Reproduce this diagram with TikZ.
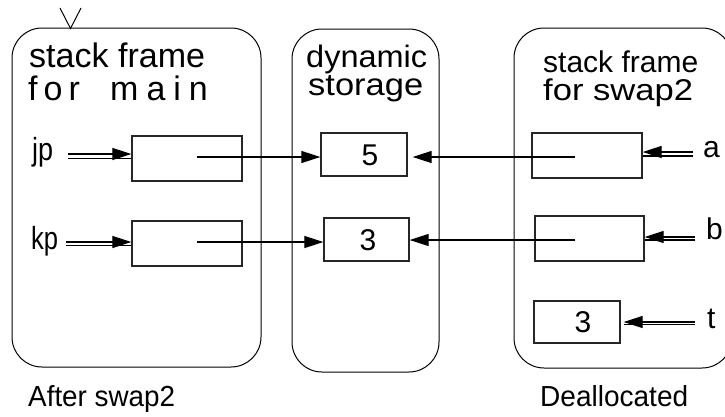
\documentclass[tikz,border=0pt]{standalone}
\usepackage{fontspec}
\setmainfont{Liberation Sans}
\usetikzlibrary{arrows.meta,calc}
% set a line to a given width while keeping the font's own height
\newcommand{\wfit}[2]{\resizebox{#1}{\height}{#2}}
\newcommand{\fs}[1]{\fontsize{#1}{#1}\selectfont}

\begin{document}
\begin{tikzpicture}[x=1pt,y=-1pt,
  frame/.style={draw, line width=1pt, rounded corners=30pt, inner sep=0pt},
  cell/.style={draw=black!85, line width=1.3pt, inner sep=0pt},
  ptr/.style={line width=1.25pt, -{Triangle[length=19pt,width=12pt]}},
  rail/.style={line width=1.2pt},
  txt/.style={inner sep=0pt, anchor=base west},
  digit/.style={inner sep=0pt, font=\fs{30}},
]
\useasboundingbox (0,0) rectangle (725,416);

% the three storage regions
\node[frame, minimum width=249pt, minimum height=339pt] (mainframe) at (136.5,197.5) {};
\node[frame, minimum width=147pt, minimum height=343pt] (heap) at (365.5,200.5) {};
\node[frame, minimum width=218pt, minimum height=340pt] (swapframe) at (623,198) {};

% marker above the main frame
\coordinate (vl) at (60,8);
\coordinate (vm) at (70.5,28.5);
\coordinate (vr) at (81,8);
\draw[line width=1pt] (vl) -- (vm) -- (vr);

% frame titles
\node[txt] (t1a) at (29,67) {\fs{34}\wfit{176pt}{stack frame}};
\node[txt] (t1b) at (28,100) {\fs{34}f\hspace{6pt}o\hspace{6pt}r};
\node[txt] (t1c) at (110,100) {\fs{34}m\hspace{8pt}a\hspace{8pt}i\hspace{8pt}n};
\node[txt] (t2a) at (306,67) {\fs{31}\wfit{121pt}{dynamic}};
\node[txt] (t2b) at (308,95) {\fs{31}\wfit{115pt}{storage}};
\node[txt] (t3a) at (543,72) {\fs{30}\wfit{155pt}{stack frame}};
\node[txt] (t3b) at (543,100) {\fs{30}\wfit{150pt}{for swap2}};

% cells
\node[cell, minimum width=110pt, minimum height=45pt] (jpbox) at (187,158.5) {};
\node[cell, minimum width=110pt, minimum height=45pt] (kpbox) at (187,243.5) {};
\node[cell, minimum width=86pt, minimum height=43pt] (five) at (364,154.5) {};
\node[cell, minimum width=85pt, minimum height=43pt] (three) at (366.5,239.5) {};
\node[cell, minimum width=110pt, minimum height=45pt] (abox) at (587,155.5) {};
\node[cell, minimum width=109pt, minimum height=45pt] (bbox) at (589.5,238.5) {};
\node[cell, minimum width=86pt, minimum height=42pt] (tbox) at (577,322) {};

% cell contents
\node[digit] (v5) at (370,155) {5};
\node[digit] (v3) at (368,240) {3};
\node[digit] (vt) at (583,322) {3};

% variable names
\node[txt] (jp) at (32,160) {\fs{32}\wfit{21pt}{jp}};
\node[txt] (kp) at (31,249) {\fs{32}\wfit{27pt}{kp}};
\node[txt] (a) at (703,157) {\fs{30}a};
\node[txt] (b) at (706,239) {\fs{30}b};
\node[txt] (t) at (707,328) {\fs{30}t};

% names bound to their cells (double rails)
\coordinate (jpS) at (68,154);
\coordinate (kpS) at (66,242);
\coordinate (aS) at (693,152);
\coordinate (bS) at (695,237);
\coordinate (tS) at (695,322);
\draw[ptr] (jpS) -- (jpS -| jpbox.west);
\draw[rail] ($(jpS)+(0,4.5)$) -- ($(jpS -| jpbox.west)+(0,4.5)$);
\draw[ptr] (kpS) -- (kpS -| kpbox.west);
\draw[rail] ($(kpS)+(0,3.5)$) -- ($(kpS -| kpbox.west)+(0,3.5)$);
\draw[ptr] (aS) -- (aS -| abox.east);
\draw[rail] ($(aS)+(0,4)$) -- ($(aS -| abox.east)+(0,4)$);
\draw[ptr] (bS) -- (bS -| bbox.east);
\draw[rail] ($(bS)+(0,3)$) -- ($(bS -| bbox.east)+(0,3)$);
\draw[ptr] (tS) -- ($(tS -| tbox.east)+(3,0)$);
\draw[rail] ($(tS)+(0,2.5)$) -- ($(tS -| tbox.east)+(3,2.5)$);

% pointer values
\coordinate (jpP) at ($(jpbox.center)+(10,-1.5)$);
\coordinate (kpP) at ($(kpbox.center)+(10,-1.5)$);
\coordinate (aP) at ($(abox.center)+(-12,1.5)$);
\coordinate (bP) at ($(bbox.center)+(-14.5,1.5)$);
\draw[ptr] (jpP) -- (jpP -| five.west);
\draw[ptr] (kpP) -- (kpP -| three.west);
\draw[ptr] (aP) -- ($(aP -| five.east)+(5,0)$);
\draw[ptr] (bP) -- (bP -| three.east);

% captions
\node[txt] (cap1) at (28,406) {\fs{29}\wfit{147pt}{After swap2}};
\node[txt] (cap2) at (540,406) {\fs{29}\wfit{148pt}{Deallocated}};
\end{tikzpicture}
\end{document}
